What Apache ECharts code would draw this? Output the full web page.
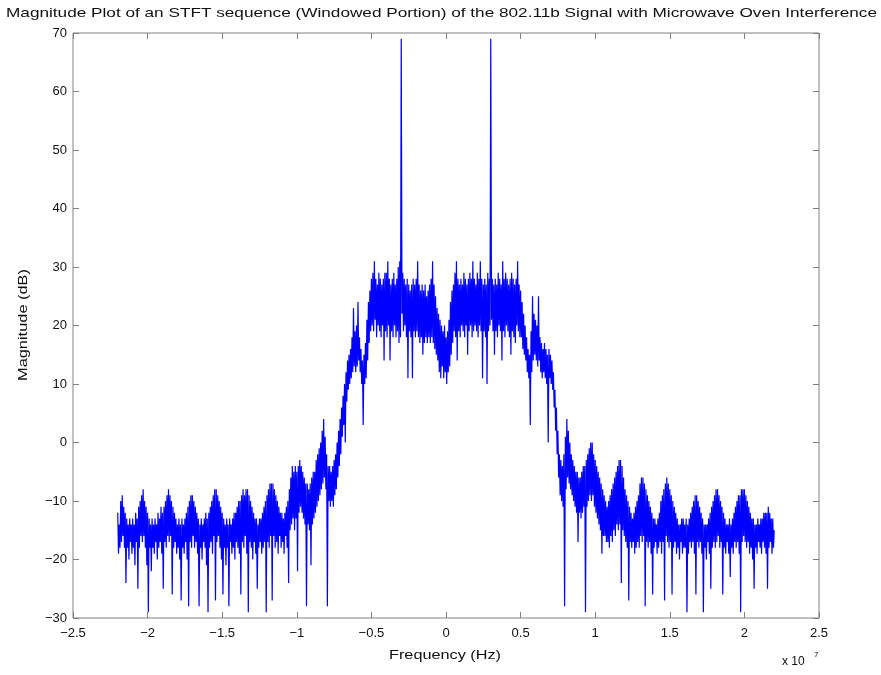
<!DOCTYPE html>
<html>
<head>
<meta charset="utf-8">
<script src="https://cdn.jsdelivr.net/npm/echarts@6/dist/echarts.min.js"></script>
<style>
  html, body { margin: 0; padding: 0; background: #ffffff; }
  #chart { width: 881px; height: 675px; }
</style>
</head>
<body>
<div id="chart"></div>
<script>
// ---- text ----
const titleText = 'Magnitude Plot of an STFT sequence (Windowed Portion) of the 802.11b Signal with Microwave Oven Interference';
const xAxisName = 'Frequency (Hz)';
const yAxisName = 'Magnitude (dB)';
const xScaleBase = 'x 10';
const xScaleExp = '7';

// ---- axis ranges ----
const xRange = [-2.5e7, 2.5e7];
const xStep = 0.5e7;
const yRange = [-30, 70];
const yStep = 10;

// ---- frequency grid of the spectrum (Hz) ----
const freqStartHz = -2.2e7;
const freqStepHz = 5e4;

// ---- STFT magnitude, one value per frequency bin (dB), 20 bins per row ----
const magnitudeDb = [
  -12,-19,-14,-18,-10,-17, -9,-16,-11,-18,-12,-24,-13,-18,-14,-20,-13,-17,-14,-19,
  -13,-18,-14,-21,-12,-17,-13,-25,-11,-18,-10,-16, -9,-17, -8,-16,-10,-18,-11,-21,
  -12,-29,-13,-18,-14,-22,-13,-18,-14,-19,-13,-17,-14,-20,-12,-18,-13,-17,-11,-19,
  -12,-25,-11,-17,-10,-18, -9,-16, -8,-17, -9,-16,-10,-26,-11,-18,-12,-17,-13,-19,
  -14,-18,-13,-20,-14,-27,-13,-18,-14,-19,-13,-17,-12,-20,-11,-28,-10,-17, -9,-18,
   -9,-16,-10,-18,-11,-17,-12,-19,-13,-28,-14,-18,-13,-20,-14,-17,-13,-18,-12,-21,
  -13,-29,-12,-18,-11,-17,-10,-19, -9,-16, -8,-27, -8,-17, -9,-16,-10,-18,-11,-20,
  -12,-26,-13,-18,-14,-21,-13,-18,-14,-28,-13,-17,-14,-19,-13,-18,-12,-20,-12,-17,
  -11,-18,-10,-19,-10,-26, -9,-17, -8,-18, -9,-16, -8,-19, -8,-29, -9,-17,-10,-18,
  -11,-20,-12,-17,-13,-19,-13,-25,-14,-18,-13,-17,-13,-19,-12,-18,-11,-17,-10,-29,
   -9,-17, -8,-18, -7,-16, -7,-27, -7,-16, -8,-18, -9,-17,-10,-19,-11,-16,-12,-18,
  -12,-17,-13,-19,-12,-16,-11,-18,-10,-24, -8,-15, -6,-14, -4,-13, -5,-15, -4,-13,
   -5,-22, -4,-12, -3,-11, -4,-12, -5,-13, -6,-14, -7,-28, -7,-14, -8,-15, -7,-21,
   -6,-14, -5,-13, -5,-12, -3,-11, -2,-10, -1, -9,  0, -8,  2, -7,  4, -6,  1, -8,
   -2,-28, -4,-10, -4,-11, -5,-10, -4,-11, -3, -9, -2, -8,  0, -6,  2, -4,  4, -2,
    6,  1,  8,  3, 10,  0, 12,  7, 14,  9, 15, 10, 16, 11, 18, 12, 23, 13, 19, 12,
   20, 13, 24, 14, 18, 12, 16, 10, 14,  3, 15, 10, 17, 11, 21, 14, 24, 17, 26, 19,
   28, 20, 29, 19, 31, 21, 28, 18, 27, 20, 29, 19, 28, 18, 27, 20, 28, 14, 29, 19,
   29, 18, 31, 20, 28, 14, 27, 19, 28, 18, 29, 20, 27, 18, 28, 19, 30, 17, 31, 18,
   69, 22, 29, 19, 28, 20, 27, 18, 28, 11, 27, 19, 26, 18, 27, 11, 28, 19, 27, 18,
   28, 19, 31, 18, 27, 17, 26, 18, 27, 15, 26, 17, 27, 18, 25, 17, 26, 18, 27, 17,
   28, 18, 31, 17, 27, 16, 25, 15, 23, 14, 22, 12, 21, 11, 20, 13, 19, 11, 20, 12,
   18, 10, 19, 12, 21, 13, 24, 15, 26, 17, 27, 19, 29, 18, 31, 14, 28, 19, 27, 18,
   28, 20, 27, 19, 29, 18, 28, 20, 27, 15, 28, 19, 29, 20, 28, 18, 31, 19, 28, 20,
   27, 19, 29, 18, 28, 20, 31, 19, 28, 11, 27, 19, 28, 18, 27, 10, 29, 19, 28, 20,
   69, 21, 28, 19, 27, 15, 28, 19, 27, 18, 29, 20, 28, 19, 27, 14, 31, 19, 28, 18,
   29, 20, 28, 19, 27, 18, 28, 15, 29, 19, 28, 18, 27, 17, 28, 20, 31, 19, 27, 18,
   26, 18, 24, 16, 22, 15, 20, 14, 18, 12, 16, 11, 15,  3, 19, 12, 25, 14, 22, 15,
   21, 14, 20, 13, 25, 14, 18, 12, 17, 11, 16, 12, 17, 11, 16, 10, 15,  0, 16, 11,
   15, 10, 14,  9, 12,  6,  9,  2,  6, -2,  2, -6, -2, -9, -3,-10, -4,-11, -2,-28,
    1, -8,  4, -6,  2, -7,  0, -8, -2, -9, -3,-10, -4,-11, -5,-12, -5,-17, -6,-12,
   -6,-13, -5,-12, -4,-11, -4,-29, -3,-11, -2,-10, -1, -9,  0,-10,  0, -9, -2,-11,
   -3,-12, -4,-13, -5,-14, -6,-15, -7,-19, -8,-16, -9,-16,-10,-17,-11,-17,-10,-18,
   -9,-16, -8,-17, -7,-15, -6,-16, -5,-14, -4,-15, -3,-14, -3,-24, -4,-15, -6,-16,
   -8,-17, -9,-18,-10,-27,-11,-17,-12,-18,-13,-17,-12,-19,-11,-18,-10,-17, -9,-18,
   -7,-16, -6,-17, -6,-16, -7,-28, -8,-17, -9,-18,-10,-17,-11,-19,-12,-26,-13,-18,
  -13,-17,-14,-19,-13,-18,-12,-17,-10,-19, -9,-17, -8,-27, -7,-16, -6,-17, -7,-18,
   -8,-17, -9,-26,-10,-18,-11,-17,-12,-19,-13,-18,-14,-20,-14,-17,-13,-19,-13,-18,
  -14,-18,-13,-29,-14,-19,-13,-17,-12,-18,-11,-17,-10,-19, -9,-26, -9,-17,-10,-18,
  -11,-17,-12,-19,-13,-29,-14,-18,-14,-20,-14,-17,-13,-19,-12,-25,-11,-18,-10,-17,
   -9,-18, -8,-17, -8,-16, -9,-18,-10,-17,-11,-26,-12,-18,-13,-19,-14,-17,-14,-19,
  -13,-23,-14,-18,-13,-19,-12,-17,-11,-18,-10,-17, -9,-19, -9,-29, -8,-17, -8,-16,
   -8,-17, -9,-18,-10,-17,-11,-19,-12,-18,-13,-20,-13,-25,-14,-18,-14,-19,-13,-17,
  -14,-18,-13,-19,-13,-17,-12,-18,-12,-19,-12,-25,-11,-18,-12,-17,-13,-19,-13,-18,
  -15
];

// ---- layout ----
const plot = { left: 73, right: 819, top: 33, bottom: 618 };
const W = 881, H = 675;
const textColor = '#111111';
const frameColor = '#808080';
const fontFamily = '"Liberation Sans", Arial, Helvetica, sans-serif';

const measureCtx = document.createElement('canvas').getContext('2d');
function widthScale(text, font, targetWidth) {
  measureCtx.font = font;
  return targetWidth / measureCtx.measureText(text).width;
}

function signed(v) {
  return (v < 0 ? '\u2212' : '') + Math.abs(v);
}

const series = magnitudeDb.map((v, i) => [freqStartHz + i * freqStepHz, v]);

const titleFont = '13px ' + fontFamily;
const nameFont = '13px ' + fontFamily;

const tickCommon = { inside: true, length: 6, lineStyle: { color: frameColor, width: 1 } };
const labelCommon = { color: textColor, fontSize: 13, fontFamily: fontFamily };
const hiddenLine = { show: false, onZero: false };

const chart = echarts.init(document.getElementById('chart'), null, { renderer: 'canvas', width: W, height: H });

chart.setOption({
  animation: false,
  backgroundColor: '#ffffff',
  grid: {
    left: plot.left, right: W - plot.right, top: plot.top, bottom: H - plot.bottom,
    show: true, borderColor: frameColor, borderWidth: 1, backgroundColor: '#ffffff',
    outerBoundsMode: 'none'
  },
  xAxis: [
    {
      type: 'value', position: 'bottom', min: xRange[0], max: xRange[1], interval: xStep,
      axisLine: hiddenLine, splitLine: { show: false }, axisTick: tickCommon,
      axisLabel: Object.assign({ margin: 9, formatter: v => signed(Math.round(v / 1e6) / 10) }, labelCommon)
    },
    {
      type: 'value', position: 'top', min: xRange[0], max: xRange[1], interval: xStep,
      axisLine: hiddenLine, splitLine: { show: false }, axisTick: tickCommon,
      axisLabel: { show: false }
    }
  ],
  yAxis: [
    {
      type: 'value', position: 'left', min: yRange[0], max: yRange[1], interval: yStep,
      axisLine: hiddenLine, splitLine: { show: false }, axisTick: tickCommon,
      axisLabel: Object.assign({ margin: 6, formatter: v => signed(v) }, labelCommon)
    },
    {
      type: 'value', position: 'right', min: yRange[0], max: yRange[1], interval: yStep,
      axisLine: hiddenLine, splitLine: { show: false }, axisTick: tickCommon,
      axisLabel: { show: false }
    }
  ],
  graphic: [
    {
      type: 'text', x: 441.5, y: 13,
      scaleX: widthScale(titleText, titleFont, 871),
      style: { text: titleText, font: titleFont, fill: textColor, align: 'center', verticalAlign: 'middle', textAlign: 'center', textVerticalAlign: 'middle' }
    },
    {
      type: 'text', x: 445, y: 655,
      scaleX: widthScale(xAxisName, nameFont, 112),
      style: { text: xAxisName, font: nameFont, fill: textColor, align: 'center', verticalAlign: 'middle', textAlign: 'center', textVerticalAlign: 'middle' }
    },
    {
      type: 'text', x: 23, y: 325, rotation: Math.PI / 2,
      scaleX: widthScale(yAxisName, nameFont, 112),
      style: { text: yAxisName, font: nameFont, fill: textColor, align: 'center', verticalAlign: 'middle', textAlign: 'center', textVerticalAlign: 'middle' }
    },
    {
      type: 'text', x: 782, y: 662,
      style: { text: xScaleBase, font: '12px ' + fontFamily, fill: textColor, align: 'left', verticalAlign: 'middle', textAlign: 'left', textVerticalAlign: 'middle' }
    },
    {
      type: 'text', x: 814, y: 655,
      style: { text: xScaleExp, font: '8px ' + fontFamily, fill: textColor, align: 'left', verticalAlign: 'middle', textAlign: 'left', textVerticalAlign: 'middle' }
    }
  ],
  series: [
    {
      type: 'line',
      xAxisIndex: 0, yAxisIndex: 0,
      data: series,
      showSymbol: false, symbol: 'none',
      lineStyle: { color: '#0000ff', width: 1.2 },
      silent: true, clip: true
    }
  ]
});
</script>
</body>
</html>
